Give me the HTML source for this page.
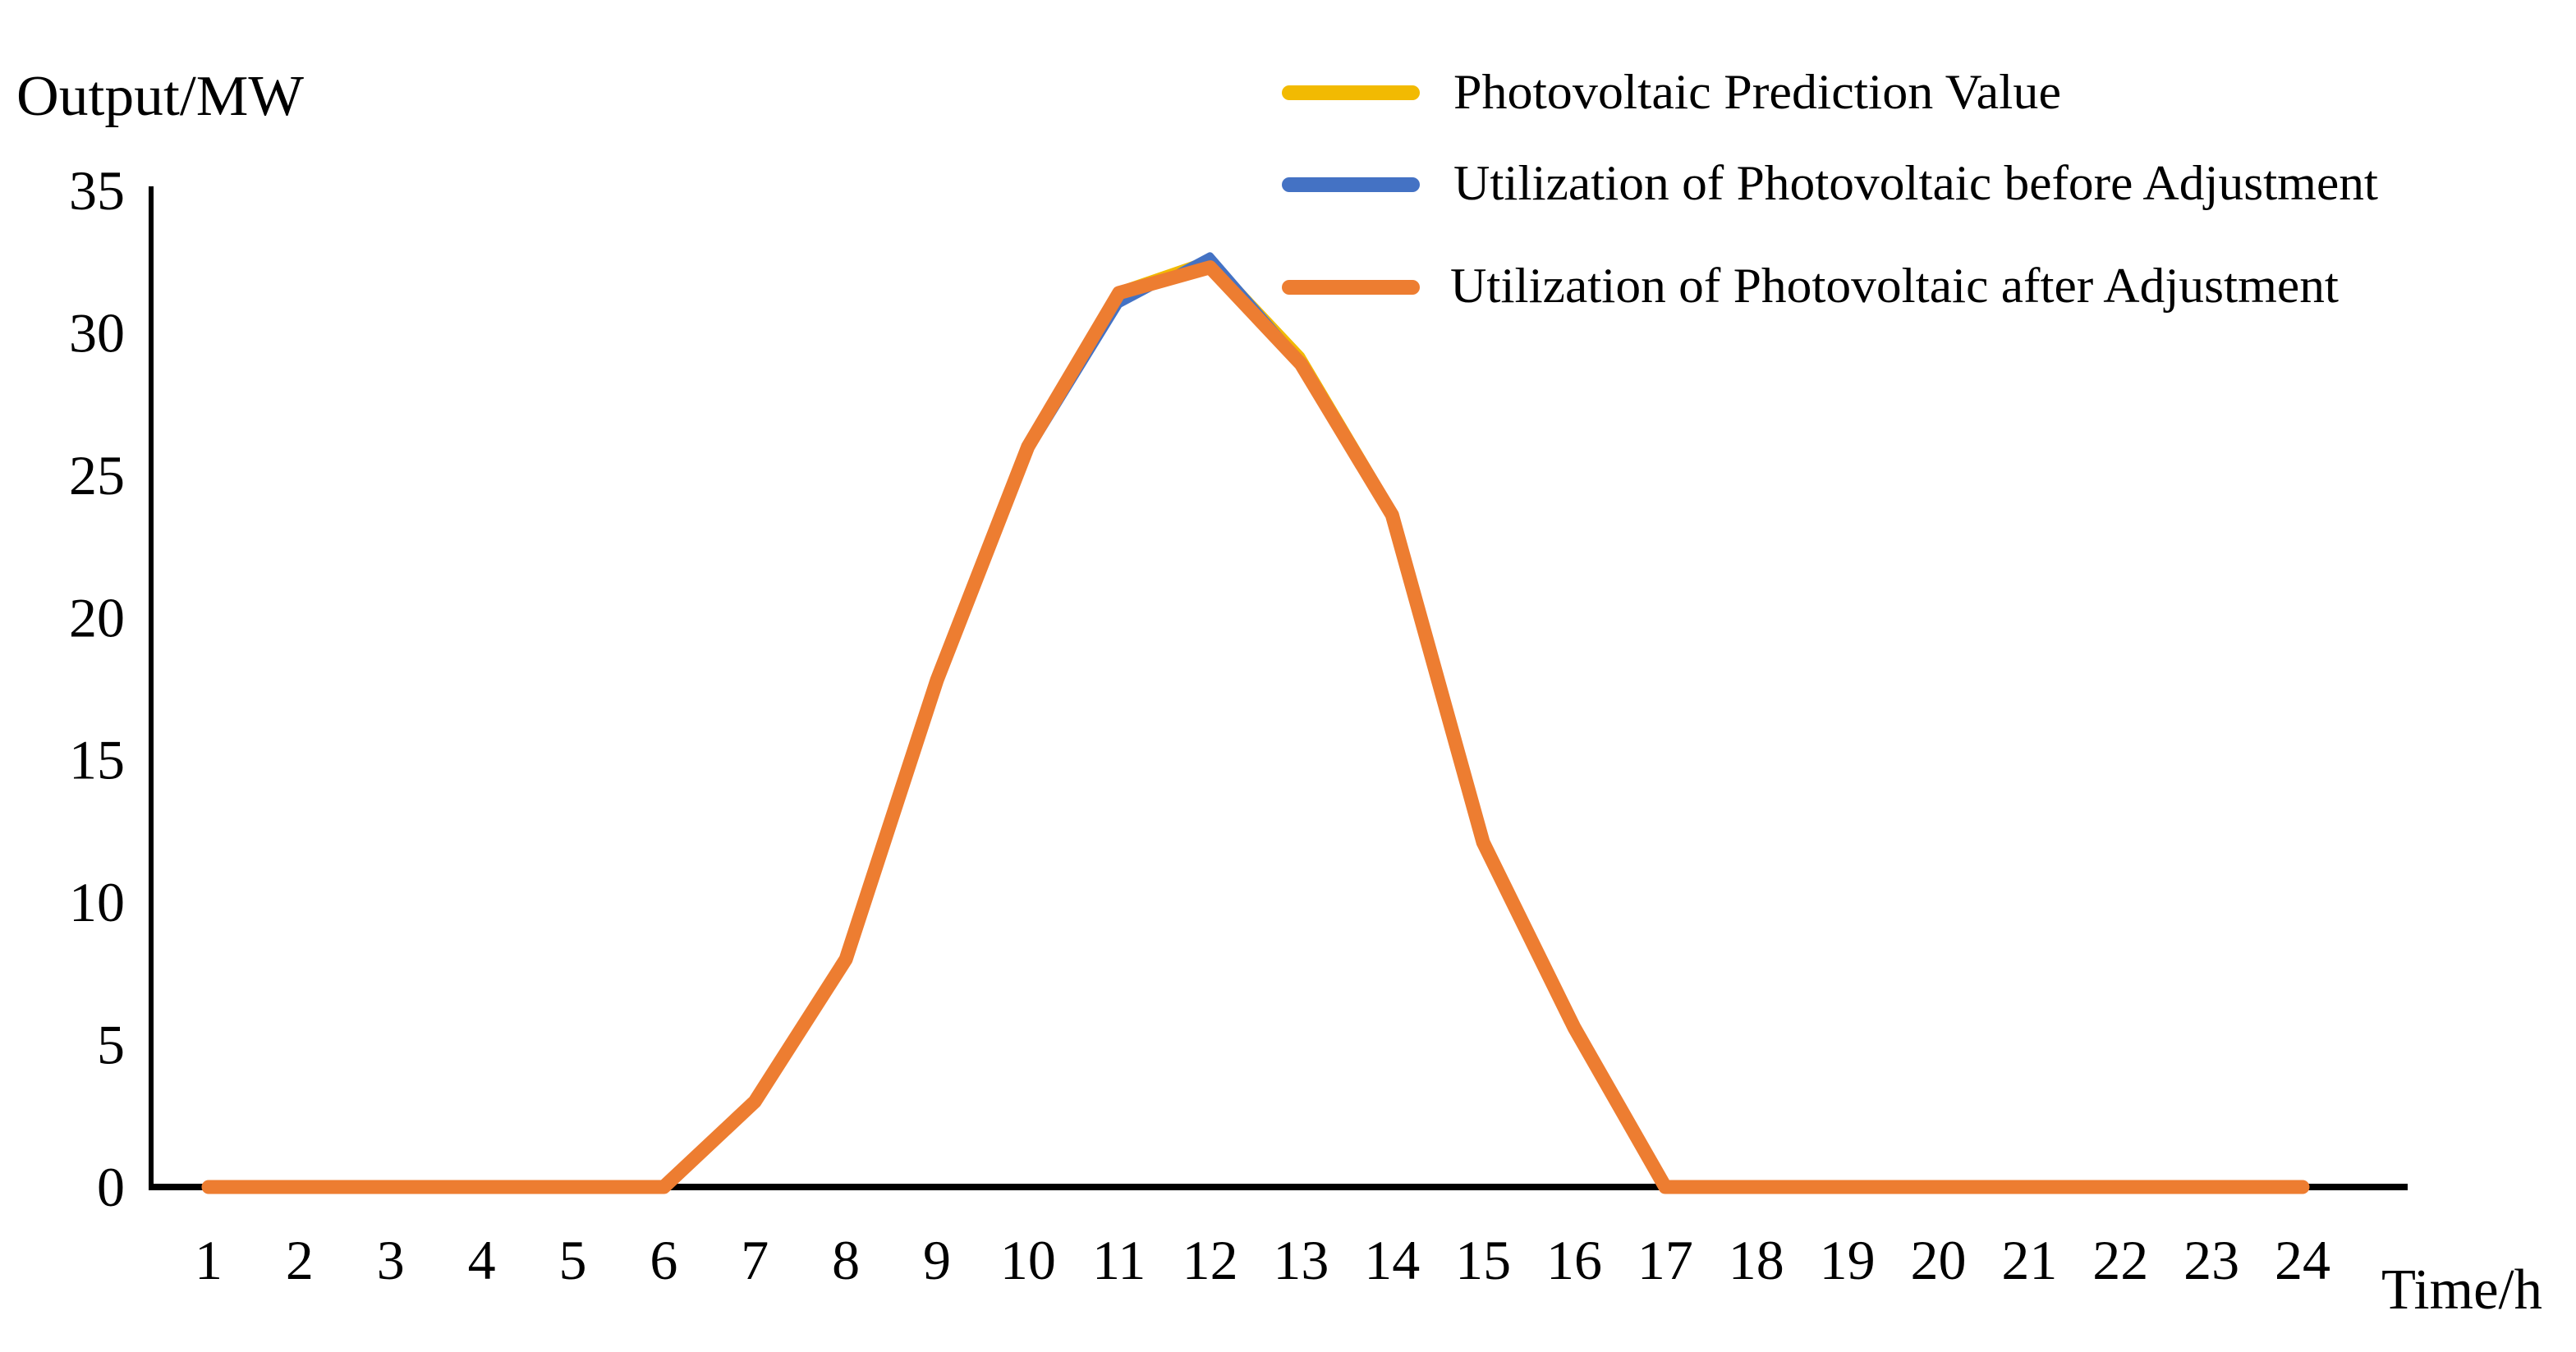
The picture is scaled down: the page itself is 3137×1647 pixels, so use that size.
<!DOCTYPE html>
<html><head><meta charset="utf-8"><style>
body{margin:0;background:#fff}
svg text{font-family:"Liberation Serif",serif;fill:#000}
</style></head><body>
<svg id="chart" width="3137" height="1642" viewBox="0 0 3137 1642" xmlns="http://www.w3.org/2000/svg">
<g id="axes"></g><g id="series"></g>
<text x="20" y="140" font-size="70" textLength="350" lengthAdjust="spacingAndGlyphs">Output/MW</text>
<text x="2900" y="1594" font-size="70" textLength="196" lengthAdjust="spacingAndGlyphs">Time/h</text>
<g>
<line x1="1570" y1="113" x2="1720" y2="113" stroke="#F2BA02" stroke-width="18" stroke-linecap="round"/>
<text x="1770" y="132" font-size="60" textLength="740" lengthAdjust="spacingAndGlyphs">Photovoltaic Prediction Value</text>
<line x1="1570" y1="225" x2="1720" y2="225" stroke="#4472C4" stroke-width="18" stroke-linecap="round"/>
<text x="1770" y="243" font-size="60" textLength="1126" lengthAdjust="spacingAndGlyphs">Utilization of Photovoltaic before Adjustment</text>
<line x1="1570" y1="350" x2="1720" y2="350" stroke="#ED7D31" stroke-width="18" stroke-linecap="round"/>
<text x="1766" y="368" font-size="60" textLength="1082" lengthAdjust="spacingAndGlyphs">Utilization of Photovoltaic after Adjustment</text>
</g>
</svg>
<script>
const hours=[1,2,3,4,5,6,7,8,9,10,11,12,13,14,15,16,17,18,19,20,21,22,23,24];
const prediction=[0,0,0,0,0,0,3,8,17.8,26,31.5,32.6,29.2,23.8,12.2,5.7,0,0,0,0,0,0,0,0];
const beforeAdj=[0,0,0,0,0,0,3,8,17.8,25.8,31,32.7,29,23.8,12.2,5.7,0,0,0,0,0,0,0,0];
const afterAdj=[0,0,0,0,0,0,3,8,17.8,26,31.4,32.3,28.9,23.6,12.1,5.6,0,0,0,0,0,0,0,0];
const yTicks=[0,5,10,15,20,25,30,35];
const NS="http://www.w3.org/2000/svg";
const X0=254,X1=2804,Y0=1446,Y1=232;
function xs(h){return X0+(h-1)*(X1-X0)/23;}
function ys(v){return Y0-v*(Y0-Y1)/35;}
function mk(tag,attrs,parent){const e=document.createElementNS(NS,tag);for(const k in attrs)e.setAttribute(k,attrs[k]);parent.appendChild(e);return e;}
const ax=document.getElementById('axes');
let l=mk('line',{x1:184,y1:ys(35)-5,x2:184,y2:Y0+4,stroke:'#000','stroke-width':6},ax);


l=mk('line',{x1:181,y1:Y0,x2:2932,y2:Y0,stroke:'#000','stroke-width':8},ax);


yTicks.forEach(v=>{const t=mk('text',{x:152,y:ys(v)+23,'font-size':68,'text-anchor':'end'},ax);t.textContent=v;

});
hours.forEach(h=>{const t=mk('text',{x:xs(h),y:1558,'font-size':68,'text-anchor':'middle'},ax);t.textContent=h;

});
const sg=document.getElementById('series');
function line(data,color,w,name){const p=mk('polyline',{points:data.map((v,i)=>xs(hours[i])+','+ys(v)).join(' '),fill:'none',stroke:color,'stroke-width':w,'stroke-linejoin':'round','stroke-linecap':'round'},sg);

}
line(prediction,'#F2BA02',9,'series-prediction');
line(beforeAdj,'#4472C4',9,'series-before-adjustment');
line(afterAdj,'#ED7D31',17,'series-after-adjustment');
</script>
</body></html>
